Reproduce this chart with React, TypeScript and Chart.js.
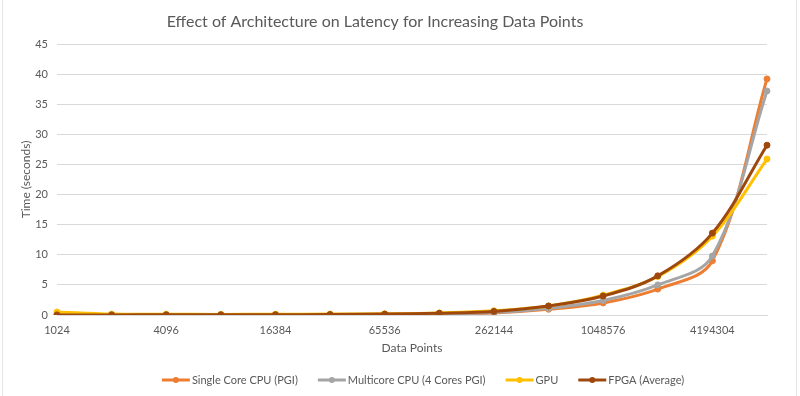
import React, { useEffect, useRef } from "react";
import { Chart, registerables } from "chart.js";

Chart.register(...registerables);

const categories = ["1024", "2048", "4096", "8192", "16384", "32768", "65536", "131072", "262144", "524288", "1048576", "2097152", "4194304", "8388608"];
const singleCore = [0.05, 0.05, 0.05, 0.05, 0.05, 0.06, 0.08, 0.15, 0.35, 0.95, 2.0, 4.3, 9.0, 39.2];
const multiCore = [0.05, 0.05, 0.05, 0.05, 0.05, 0.06, 0.09, 0.18, 0.4, 1.1, 2.4, 5.0, 9.8, 37.2];
const gpu = [0.5, 0.15, 0.12, 0.1, 0.12, 0.15, 0.2, 0.35, 0.7, 1.5, 3.3, 6.4, 13.1, 25.9];
const fpga = [0.02, 0.02, 0.03, 0.03, 0.05, 0.08, 0.15, 0.3, 0.6, 1.5, 3.15, 6.5, 13.6, 28.2];
const seriesNames = ["Single Core CPU (PGI)", "Multicore CPU (4 Cores PGI)", "GPU", "FPGA (Average)"];
const seriesColors = ["#ED7D31", "#A5A5A5", "#FFC000", "#9E480E"];
const titleText = "Effect of Architecture on Latency for Increasing Data Points";
const yTitle = "Time (seconds)";
const xTitle = "Data Points";

const FONT = "Lato, 'Open Sans', sans-serif";
const TEXT = "#595959";

export default function App() {
  const ref = useRef<HTMLCanvasElement | null>(null);
  useEffect(() => {
    document.body.style.margin = "0";
    const canvas = ref.current!;
    const series = [singleCore, multiCore, gpu, fpga];
    const datasets = series.map((d, i) => ({
      label: seriesNames[i],
      data: d,
      borderColor: seriesColors[i],
      backgroundColor: seriesColors[i],
      borderWidth: 3,
      pointRadius: 3,
      pointBorderWidth: 1,
      pointBackgroundColor: seriesColors[i],
      pointBorderColor: seriesColors[i],
      tension: 0.35,
      order: 3 - i,
    }));

    const decor = {
      id: "decor",
      afterDraw(chart: any) {
        const ctx = chart.ctx as CanvasRenderingContext2D;
        ctx.save();
        // title
        ctx.fillStyle = TEXT;
        ctx.font = `16px ${FONT}`;
        ctx.textAlign = "center";
        ctx.textBaseline = "middle";
        ctx.fillText(titleText, 375, 22);
        // legend
        ctx.font = `11px ${FONT}`;
        const lineW = 28;
        const gap = 2;
        const itemGap = 20;
        const widths = seriesNames.map((n) => lineW + gap + ctx.measureText(n).width);
        const total = widths.reduce((a, b) => a + b, 0) + itemGap * (seriesNames.length - 1);
        let x = 423 - total / 2;
        const y = 380;
        ctx.textAlign = "left";
        seriesNames.forEach((n, i) => {
          ctx.strokeStyle = seriesColors[i];
          ctx.lineWidth = 3;
          ctx.beginPath();
          ctx.moveTo(x, y);
          ctx.lineTo(x + lineW, y);
          ctx.stroke();
          ctx.fillStyle = seriesColors[i];
          ctx.beginPath();
          ctx.arc(x + lineW / 2, y, 3, 0, Math.PI * 2);
          ctx.fill();
          ctx.fillStyle = TEXT;
          ctx.fillText(n, x + lineW + gap, y);
          x += widths[i] + itemGap;
        });
        // faint sheet borders
        ctx.strokeStyle = "#e6e6e6";
        ctx.lineWidth = 1;
        ctx.beginPath();
        ctx.moveTo(2.5, 0);
        ctx.lineTo(2.5, 396);
        ctx.moveTo(796.5, 0);
        ctx.lineTo(796.5, 396);
        ctx.stroke();
        ctx.restore();
      },
    };

    const chart = new Chart(canvas, {
      type: "line",
      data: { labels: categories, datasets },
      options: {
        animation: false,
        responsive: false,
        maintainAspectRatio: false,
        layout: { padding: { left: 0, right: 33, top: 44, bottom: 36 } },
        plugins: { legend: { display: false }, title: { display: false }, tooltip: { enabled: false } },
        scales: {
          x: {
            offset: false,
            grid: { display: false, drawTicks: false },
            border: { display: true, color: "#d9d9d9" },
            ticks: {
              autoSkip: false,
              maxRotation: 0,
              padding: 9,
              color: TEXT,
              font: { family: FONT, size: 11 },
              callback: (_v: any, i: number) => (i % 2 === 0 ? categories[i] : ""),
            },
            title: { display: true, text: xTitle, color: TEXT, font: { family: FONT, size: 12 }, padding: { top: 0, bottom: 5 } },
            afterFit: (s: any) => {
              s.height = 45;
            },
          },
          y: {
            min: 0,
            max: 45,
            grid: { color: "#d9d9d9", drawTicks: false },
            border: { display: false },
            ticks: { stepSize: 5, padding: 9, color: TEXT, font: { family: FONT, size: 11 } },
            title: { display: true, text: yTitle, color: TEXT, font: { family: FONT, size: 12 }, padding: { top: 19, bottom: 0 } },
            afterFit: (s: any) => {
              s.width = 57;
            },
          },
        },
      },
      plugins: [decor],
    });
    return () => chart.destroy();
  }, []);
  return <canvas ref={ref} width={800} height={396} style={{ display: "block" }} />;
}
